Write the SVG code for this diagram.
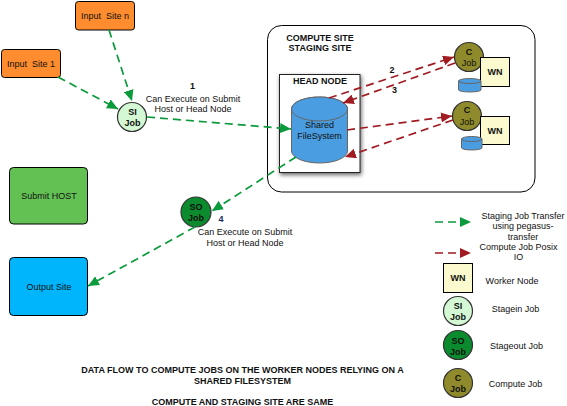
<svg xmlns="http://www.w3.org/2000/svg" width="567" height="406" viewBox="0 0 567 406">
<style>
text{font-family:"Liberation Sans",Arial,sans-serif;font-size:9px;fill:#111;text-anchor:middle;white-space:pre}
.b{font-weight:bold}
.box{stroke:#000;stroke-width:1}
.job{stroke:#333;stroke-width:1.2}
.g{fill:none;stroke:#0b9a3c;stroke-width:1.7;stroke-dasharray:8 5}
.r{fill:none;stroke:#a01c22;stroke-width:1.7;stroke-dasharray:8 5}
.si{fill:#d3f8d3}.so{fill:#0b8a2e}.c{fill:#8f8a2c}.wn{fill:#fbf9ce}
.cyl{fill:#4a9de0;stroke:#666;stroke-width:1}
</style>
<defs>
<marker id="ag" markerUnits="userSpaceOnUse" markerWidth="12" markerHeight="10" refX="11" refY="5" orient="auto"><path d="M0 0L11 5L0 10Z" fill="#0b9a3c"/></marker>
<marker id="ar" markerUnits="userSpaceOnUse" markerWidth="12" markerHeight="10" refX="11" refY="5" orient="auto"><path d="M0 0L11 5L0 10Z" fill="#a01c22"/></marker>
<filter id="sh" x="-10%" y="-10%" width="125%" height="125%"><feDropShadow dx="1" dy="2" stdDeviation="2" flood-color="#000" flood-opacity="0.6"/></filter>
</defs>

<g id="compute-site"><rect x="267.5" y="25.5" width="267.5" height="166.5" rx="14" fill="#fff" stroke="#000" stroke-width="1"/>
<text class="b" x="320" y="41">COMPUTE SITE</text><text class="b" x="320" y="51">STAGING SITE</text></g>
<g id="head-node"><rect x="279.5" y="74.5" width="80.5" height="98" fill="#fff" stroke="#222" filter="url(#sh)"/>
<text class="b" x="320" y="83.500">HEAD NODE</text></g>
<g id="shared-filesystem"><path class="cyl" d="M291.500 109V151A28 12 0 0 0 347.500 151V109A28 12 0 0 0 291.500 109Z"/><ellipse class="cyl" cx="319.500" cy="109" rx="28" ry="12"/>
<text x="319.500" y="128">Shared</text><text x="319.500" y="139">FileSystem</text></g>

<g id="input-site-n"><rect class="box" x="75.500" y="1.500" width="59" height="28.500" rx="3" fill="#ff8c2e"/><text x="105" y="19">Input  Site n</text></g>
<g id="input-site-1"><rect class="box" x="1.500" y="49.500" width="59" height="28" rx="3" fill="#ff8c2e"/><text x="31" y="67">Input  Site 1</text></g>
<g id="si-job"><circle class="job si" cx="132" cy="117" r="14.500"/><text class="b" x="132.500" y="115">SI</text><text class="b" x="132.500" y="125.500">Job</text></g>
<g id="submit-host"><rect class="box" x="9.500" y="167.500" width="78" height="56.500" rx="4" fill="#63c154"/><text x="49" y="199">Submit HOST</text></g>
<g id="output-site"><rect class="box" x="9.500" y="257.500" width="78" height="58" rx="4" fill="#00b5fb"/><text x="49" y="290">Output Site</text></g>
<g id="so-job"><circle class="job so" cx="196" cy="212" r="15"/><text class="b" x="196" y="210">SO</text><text class="b" x="196" y="221">Job</text></g>

<g id="c-job-1"><circle class="job c" cx="469" cy="57" r="14.500"/><text class="b" x="469" y="55">C</text><text x="469" y="66">Job</text></g>
<g id="wn-1"><rect class="box wn" x="480.500" y="57.500" width="29" height="29"/><text class="b" x="495" y="75">WN</text></g>
<g id="disk-1"><path class="cyl" d="M458.500 81V90A11.500 2.500 0 0 0 481 90V81Z"/><ellipse class="cyl" cx="469.750" cy="81" rx="11.250" ry="2.500"/></g>
<g id="c-job-2"><circle class="job c" cx="467" cy="116" r="14.500"/><text class="b" x="467" y="113">C</text><text x="467" y="124.500">Job</text></g>
<g id="wn-2"><rect class="box wn" x="480.500" y="116.500" width="29" height="28"/><text class="b" x="495" y="134">WN</text></g>
<g id="disk-2"><path class="cyl" d="M461.500 139V148A10.500 2.500 0 0 0 482 148V139Z"/><ellipse class="cyl" cx="471.750" cy="139" rx="10.250" ry="2.500"/></g>

<g id="connectors">
<path class="g" marker-end="url(#ag)" d="M109 30L132 101"/>
<path class="g" marker-end="url(#ag)" d="M58 77L118 109"/>
<path class="g" marker-end="url(#ag)" d="M147 117L291 129"/>
<path class="g" marker-end="url(#ag)" d="M296 157L212 211"/>
<path class="g" marker-end="url(#ag)" d="M195 227L88 286"/>
<path class="r" marker-end="url(#ar)" d="M329 98L454 57"/>
<path class="r" marker-end="url(#ar)" d="M455 63L343 103"/>
<path class="r" marker-end="url(#ar)" d="M347 130L452 116"/>
<path class="r" marker-end="url(#ar)" d="M453 120L345 157"/>
</g>

<g id="labels">
<text class="b" x="192.500" y="89">1</text>
<text x="193" y="102">Can Execute on Submit</text><text x="193" y="112">Host or Head Node</text>
<text class="b" x="392" y="73">2</text><text class="b" x="394.500" y="93">3</text>
<text class="b" x="221" y="222" style="fill:#1a2a66">4</text>
<text x="245" y="235">Can Execute on Submit</text><text x="245" y="246">Host or Head Node</text>
</g>

<g id="legend">
<path class="g" marker-end="url(#ag)" d="M435 222H471"/>
<path class="r" marker-end="url(#ar)" d="M435 253H471"/>
<text x="523" y="219">Staging Job Transfer</text><text x="523" y="229">using pegasus-</text><text x="523" y="240">transfer</text>
<text x="518.500" y="250">Compute Job Posix</text><text x="518.500" y="260">IO</text>
<g id="legend-wn"><rect class="box wn" x="443.500" y="263.500" width="29" height="29"/><text class="b" x="458" y="281">WN</text></g>
<text x="512" y="284">Worker Node</text>
<g id="legend-si"><circle class="job si" cx="458" cy="311" r="14.500"/><text class="b" x="458" y="309">SI</text><text class="b" x="458" y="320">Job</text></g>
<text x="515.500" y="312">Stagein Job</text>
<g id="legend-so"><circle class="job so" cx="458" cy="345" r="14.500"/><text class="b" x="458" y="344">SO</text><text class="b" x="458" y="355">Job</text></g>
<text x="516.500" y="349">Stageout Job</text>
<g id="legend-c"><circle class="job c" cx="458" cy="383" r="14.500"/><text class="b" x="458" y="381">C</text><text class="b" x="458" y="392">Job</text></g>
<text x="515.500" y="387">Compute Job</text>
</g>

<g id="caption">
<text class="b" x="242.500" y="373">DATA FLOW TO COMPUTE JOBS ON THE WORKER NODES RELYING ON A</text>
<text class="b" x="242.500" y="384">SHARED FILESYSTEM</text>
<text class="b" x="242.500" y="405">COMPUTE AND STAGING SITE ARE SAME</text>
</g>
</svg>
